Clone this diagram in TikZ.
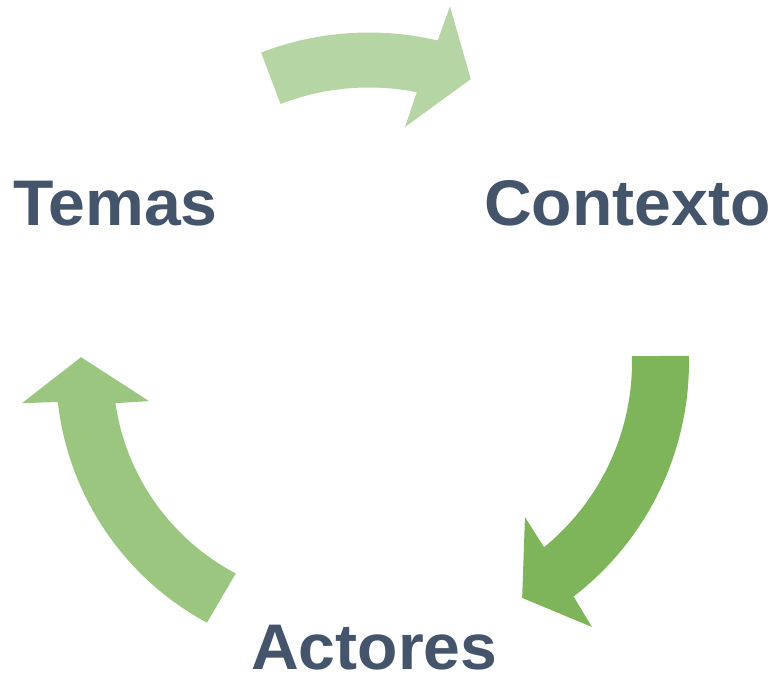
\documentclass[tikz,border=0pt]{standalone}
\usepackage{fontspec}
\setmainfont{Liberation Sans}
\newfontfamily\lblfont{Liberation Sans Bold}[FakeStretch=1.025]
\usetikzlibrary{calc}
\definecolor{txtc}{HTML}{44546A}
\definecolor{topc}{HTML}{B6D5A4}
\definecolor{rightc}{HTML}{7FB55A}
\definecolor{leftc}{HTML}{9BC67F}
\tikzset{
  label/.style={inner sep=0pt, anchor=base west, text=txtc, font=\lblfont\fontsize{64.5}{64.5}\selectfont},
}
\begin{document}
\begin{tikzpicture}[x=1pt,y=1pt]
\useasboundingbox (0,0) rectangle (774,673);
% top arrow
\begin{scope}[shift={(369,339.5)}]
\fill[topc] (111:301pt) arc[start angle=111, end angle=76.8, radius=301pt]
  -- (76.1:337pt) -- (68.2:274pt) -- (80.1:209.6pt) -- (78.8:246pt)
  arc[start angle=78.8, end angle=111.1, radius=246pt] -- cycle;
\end{scope}
% right arrow
\begin{scope}[shift={(393,311)}]
\fill[rightc] (1.2:296pt) arc[start angle=1.2, end angle=-52.4, radius=296pt]
  -- (-53.1:331.4pt) -- (-61.3:269pt) -- (-49.6:203.6pt) -- (-50.8:239pt)
  arc[start angle=-50.8, end angle=1.4, radius=239pt] -- cycle;
\end{scope}
% left arrow
\begin{scope}[shift={(343,303)}]
\fill[leftc] (241.7:287pt) arc[start angle=241.7, end angle=186.4, radius=287pt]
  -- (185.9:322.7pt) -- (177.2:262.3pt) -- (189.1:196.5pt) -- (188.3:230pt)
  arc[start angle=188.3, end angle=242.2, radius=230pt] -- cycle;
\end{scope}
\node[label] (temas) at (13,447) {Temas};
\node[label] (contexto) at (484,447) {Contexto};
\node[label] (actores) at (251,3.5) {Actores};
\end{tikzpicture}
\end{document}
